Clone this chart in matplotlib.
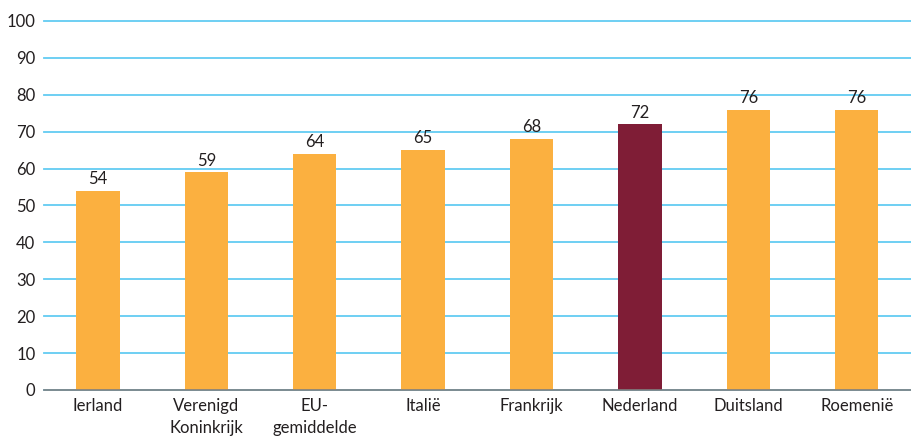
import numpy as np
import matplotlib.pyplot as plt

# data
landen = ['Ierland', 'Verenigd\nKoninkrijk', 'EU-\ngemiddelde', 'Italië', 'Frankrijk',
          'Nederland', 'Duitsland', 'Roemenië']
waarden = [54, 59, 64, 65, 68, 72, 76, 76]
kleuren = ['#FBB040'] * 8
kleuren[5] = '#7F1D36'

plt.rcParams['font.family'] = ['Lato', 'DejaVu Sans']

fig = plt.figure(figsize=(9.11, 4.38), dpi=100)
ax = fig.add_axes([0.048, 0.1096, 0.952, 0.8425])

x = np.arange(len(landen))
bars = ax.bar(x, waarden, width=0.4, color=kleuren, zorder=3)
for xi, v in zip(x, waarden):
    ax.text(xi, v + 1, str(v), ha='center', va='bottom', fontsize=12, color='#231F20')

ax.set_ylim(0, 100)
ax.set_xlim(-0.5, len(landen) - 0.5)
ax.set_yticks(range(0, 101, 10))
ax.yaxis.grid(True, color='#62CBF2', linewidth=1.3)
for gl in ax.get_ygridlines():
    gl.set_clip_on(False)
ax.set_axisbelow(True)
ax.set_xticks(x)
ax.set_xticklabels(landen, fontsize=12, color='#231F20', linespacing=1.45)
ax.tick_params(axis='y', labelsize=12, colors='#231F20', length=0, pad=6)
ax.tick_params(axis='x', length=0, pad=6)
for s in ['top', 'right', 'left']:
    ax.spines[s].set_visible(False)
ax.spines['bottom'].set_color('#808080')
ax.spines['bottom'].set_linewidth(1.2)
ax.spines['bottom'].set_zorder(4)

fig.savefig('out.png', dpi=100)
